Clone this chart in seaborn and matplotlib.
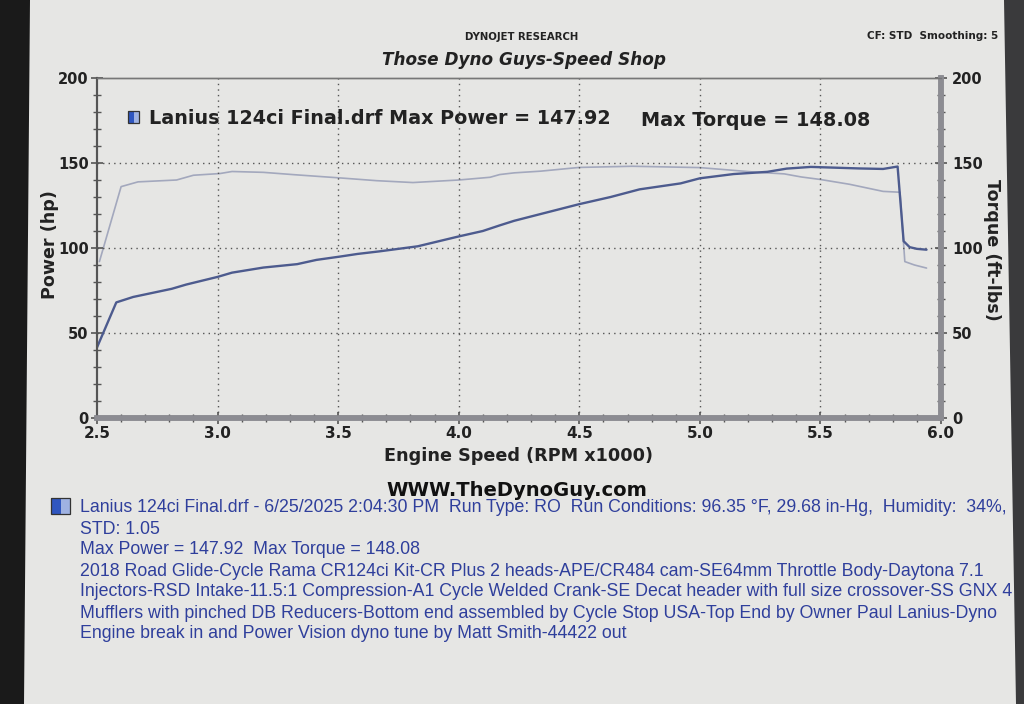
import pandas as pd
import matplotlib.pyplot as plt
import matplotlib.patches as mpatches
import seaborn as sns
import numpy as np

rpm_potencia = [2.50, 2.58, 2.65, 2.81, 2.87, 3.00, 3.06, 3.19, 3.33, 3.41, 3.51, 3.58,
                3.67, 3.83, 4.00, 4.10, 4.17, 4.23, 4.34, 4.50, 4.63, 4.75, 4.92, 5.00,
                5.14, 5.28, 5.36, 5.46, 5.55, 5.66, 5.76, 5.82, 5.845, 5.87, 5.90, 5.94]
potencia_hp = [41.5, 68.0, 71.2, 76.0, 78.5, 83.0, 85.5, 88.5, 90.5, 93.0, 95.0, 96.5,
               98.0, 101.0, 106.8, 110.0, 113.3, 116.0, 120.0, 125.8, 130.0, 134.5, 138.0, 141.0,
               143.5, 144.8, 146.7, 147.7, 147.3, 146.8, 146.5, 147.92, 104.0, 100.5, 99.5, 99.0]

rpm_torque = [2.51, 2.60, 2.67, 2.83, 2.90, 3.01, 3.06, 3.19, 3.32, 3.51, 3.66, 3.81,
              4.00, 4.13, 4.17, 4.23, 4.34, 4.50, 4.72, 5.00, 5.24, 5.35, 5.42, 5.50,
              5.62, 5.76, 5.83, 5.85, 5.89, 5.94]
torque_ftlb = [92.0, 136.1, 138.9, 140.0, 142.8, 143.8, 145.0, 144.5, 143.1, 141.2, 139.6, 138.5,
               140.0, 141.6, 143.2, 144.2, 145.2, 147.4, 148.08, 147.3, 144.5, 143.6, 141.8, 140.3,
               137.5, 133.3, 132.8, 92.0, 90.0, 88.2]

ticks_x = [2.5, 3.0, 3.5, 4.0, 4.5, 5.0, 5.5, 6.0]
ticks_y = [0, 50, 100, 150, 200]

papel = '#e6e6e4'
azul_texto = '#2f3f9c'

sns.set_style('ticks')
plt.rcParams['font.family'] = ['DejaVu Sans']

df_pot = pd.DataFrame({'rpm': rpm_potencia, 'hp': potencia_hp})
df_tq = pd.DataFrame({'rpm': rpm_torque, 'tq': torque_ftlb})

fig = plt.figure(figsize=(10.24, 7.04), dpi=100, facecolor=papel)
ax = fig.add_axes([97 / 1024, 1 - 418 / 704, 844 / 1024, 340 / 704])
ax.set_facecolor(papel)
ax2 = ax.twinx()

sns.lineplot(data=df_tq, x='rpm', y='tq', ax=ax2, color='#a3a8bd', linewidth=1.2)
sns.lineplot(data=df_pot, x='rpm', y='hp', ax=ax, color='#4d5b8e', linewidth=1.7)
ax.set_zorder(ax2.get_zorder() + 1)
ax.patch.set_visible(False)
ax2.set_facecolor(papel)

for a in (ax, ax2):
    a.set_xlim(2.5, 6.0)
    a.set_ylim(0, 200)
    a.set_xlabel('')
    a.set_ylabel('')

ax.set_xticks(ticks_x)
ax.set_xticklabels([f'{t:.1f}' for t in ticks_x], fontsize=11, fontweight='bold', color='#222')
ax.set_xticks(np.arange(2.5, 6.01, 0.1), minor=True)
ax.set_yticks(ticks_y)
ax.set_yticklabels([str(t) for t in ticks_y], fontsize=10.5, fontweight='bold', color='#222')
ax.set_yticks(np.arange(0, 201, 10), minor=True)
ax2.set_yticks(ticks_y)
ax2.set_yticklabels([str(t) for t in ticks_y], fontsize=10.5, fontweight='bold', color='#222')
ax2.set_yticks(np.arange(0, 201, 10), minor=True)

ax.tick_params(axis='both', which='major', direction='inout', length=8, width=1.2, color='#555', pad=2)
ax.tick_params(axis='both', which='minor', direction='inout', length=6, width=1.0, color='#555')
ax2.tick_params(axis='y', which='major', direction='inout', length=8, width=1.2, color='#555', pad=4)
ax2.tick_params(axis='y', which='minor', direction='inout', length=6, width=1.0, color='#555')

# rejilla punteada
for x in ticks_x[1:-1]:
    ax.axvline(x, color='#555', linestyle=(0, (1, 3)), linewidth=1.0, zorder=0)
for y in ticks_y[1:-1]:
    ax.axhline(y, color='#555', linestyle=(0, (1, 3)), linewidth=1.0, zorder=0)

for a in (ax, ax2):
    a.spines['left'].set_color('#555')
    a.spines['left'].set_linewidth(1.5)
    a.spines['top'].set_color('#777')
    a.spines['top'].set_linewidth(1.0)
    a.spines['bottom'].set_color('#8c8c92')
    a.spines['bottom'].set_linewidth(4)
    a.spines['right'].set_color('#8c8c92')
    a.spines['right'].set_linewidth(4)


def cuadro(x, y, w, h):
    # cuadrito azul de dos tonos (pixeles desde arriba a la izquierda)
    fig.patches.append(mpatches.Rectangle((x / 1024, 1 - (y + h) / 704), w / 2 / 1024, h / 704,
                                          transform=fig.transFigure, facecolor='#2f56c0',
                                          edgecolor='none', zorder=5))
    fig.patches.append(mpatches.Rectangle(((x + w / 2) / 1024, 1 - (y + h) / 704), w / 2 / 1024, h / 704,
                                          transform=fig.transFigure, facecolor='#9fb2e2',
                                          edgecolor='none', zorder=5))
    fig.patches.append(mpatches.Rectangle((x / 1024, 1 - (y + h) / 704), w / 1024, h / 704,
                                          transform=fig.transFigure, facecolor='none',
                                          edgecolor='#333', linewidth=0.9, zorder=6))


# textos del encabezado
fig.text(522 / 1024, 1 - 37 / 704, 'DYNOJET RESEARCH', ha='center', va='center',
         fontsize=7.3, fontweight='bold', color='#222')
fig.text(998 / 1024, 1 - 36 / 704, 'CF: STD  Smoothing: 5', ha='right', va='center',
         fontsize=7.5, fontweight='bold', color='#222')
fig.text(524 / 1024, 1 - 60 / 704, 'Those Dyno Guys-Speed Shop', ha='center', va='center',
         fontsize=12.2, fontweight='bold', fontstyle='italic', color='#222')

# leyenda dentro del grafico
cuadro(128, 111, 11, 12)
fig.text(149 / 1024, 1 - 119 / 704, 'Lanius 124ci Final.drf Max Power = 147.92', ha='left', va='center',
         fontsize=13.8, fontweight='bold', color='#222')
fig.text(641 / 1024, 1 - 121 / 704, 'Max Torque = 148.08', ha='left', va='center',
         fontsize=13.9, fontweight='bold', color='#222')

fig.text(50 / 1024, 1 - 245 / 704, 'Power (hp)', rotation=90, ha='center', va='center',
         fontsize=12.6, fontweight='bold', color='#222')
fig.text(992 / 1024, 1 - 250 / 704, 'Torque (ft-lbs)', rotation=270, ha='center', va='center',
         fontsize=12.6, fontweight='bold', color='#222')
fig.text(519 / 1024, 1 - 456 / 704, 'Engine Speed (RPM x1000)', ha='center', va='center',
         fontsize=12.7, fontweight='bold', color='#222')
fig.text(517 / 1024, 1 - 490 / 704, 'WWW.TheDynoGuy.com', ha='center', va='center',
         fontsize=14, fontweight='bold', color='#111')

# bloque de informacion de la corrida
cuadro(51, 498, 19, 16)
lineas = [
    ('Lanius 124ci Final.drf - 6/25/2025 2:04:30 PM  Run Type: RO  Run Conditions: 96.35 \u00b0F, 29.68 in-Hg,  Humidity:  34%,', 508),
    ('STD: 1.05', 529),
    ('Max Power = 147.92  Max Torque = 148.08', 550),
    ('2018 Road Glide-Cycle Rama CR124ci Kit-CR Plus 2 heads-APE/CR484 cam-SE64mm Throttle Body-Daytona 7.1', 571),
    ('Injectors-RSD Intake-11.5:1 Compression-A1 Cycle Welded Crank-SE Decat header with full size crossover-SS GNX 4', 592),
    ('Mufflers with pinched DB Reducers-Bottom end assembled by Cycle Stop USA-Top End by Owner Paul Lanius-Dyno', 613),
    ('Engine break in and Power Vision dyno tune by Matt Smith-44422 out', 634),
]
for texto, y in lineas:
    fig.text(80 / 1024, 1 - y / 704, texto, ha='left', va='center', fontsize=12.8,
             family=['Liberation Sans'], color=azul_texto)

# bordes oscuros de la foto
fig.patches.append(mpatches.Polygon([[0, 1], [30 / 1024, 1], [24 / 1024, 0], [0, 0]],
                                    closed=True, transform=fig.transFigure,
                                    facecolor='#1a1a1a', edgecolor='none', zorder=0))
fig.patches.append(mpatches.Polygon([[1, 1], [1004 / 1024, 1], [1016 / 1024, 0], [1, 0]],
                                    closed=True, transform=fig.transFigure,
                                    facecolor='#3a3a3c', edgecolor='none', zorder=0))

fig.savefig('out.png', dpi=100, facecolor=papel)
